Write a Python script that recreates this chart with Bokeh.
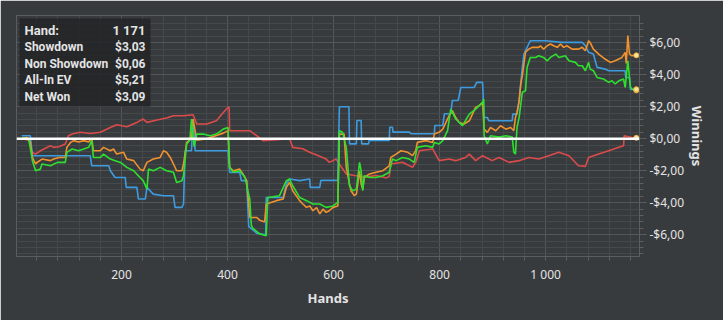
from bokeh.plotting import figure
from bokeh.models import Range1d, FixedTicker, Span, BoxAnnotation, Label
from bokeh.embed import file_html
from bokeh.resources import INLINE

# ---------------- data ----------------
x_major = [200, 400, 600, 800, 1000]
x_minor = [40, 80, 120, 160, 240, 280, 320, 360, 440, 480, 520, 560, 640, 680, 720, 760,
           840, 880, 920, 960, 1040, 1080, 1120, 1160]
x_labels = ["200", "400", "600", "800", "1 000"]

y_major = [-6, -4, -2, 0, 2, 4, 6]
y_minor = [-7.2, -6.8, -6.4, -5.6, -5.2, -4.8, -4.4, -3.6, -3.2, -2.8, -2.4, -1.6, -1.2, -0.8, -0.4,
           0.4, 0.8, 1.2, 1.6, 2.4, 2.8, 3.2, 3.6, 4.4, 4.8, 5.2, 5.6, 6.4, 6.8, 7.2]
y_labels = ["-$6,00", "-$4,00", "-$2,00", "$0,00", "$2,00", "$4,00", "$6,00"]

tip_names = ["Hand:", "Showdown", "Non Showdown", "All-In EV", "Net Won"]
tip_values = ["1 171", "$3,03", "$0,06", "$5,21", "$3,09"]

# (hand, winnings) breakpoints per series
non_showdown = [(12, 0), (25, -0.1), (32, -0.86), (38, -0.96), (47, -0.75), (66, -0.44), (72, -0.54),
    (82, -0.5), (94, -0.33), (100, 0.19), (107, 0.29), (122, 0.4), (141, 0.33), (160, 0.4), (179, 0.7),
    (191, 0.87), (210, 0.75), (229, 1.02), (241, 1.23), (248, 1.02), (267, 1.17), (285, 1.29),
    (298, 1.44), (317, 1.44), (335, 1.5), (342, 0.92), (361, 0.92), (379, 1.12), (392, 1.64),
    (401, 1.96), (403, 1.96), (404, 0.5), (442, 0.5), (455, 0.19), (467, -0.12), (517, 0.0),
    (523, -0.54), (542, -0.63), (555, -0.85), (567, -1.0), (586, -1.27), (592, -1.48), (605, -1.27),
    (611, -1.6), (624, -2.2), (640, -2.3), (660, -2.4), (680, -2.3), (700, -2.45), (705, -2.35),
    (708, -1.58), (730, -1.47), (749, -1.79), (755, -1.47), (762, -0.75), (787, -0.64), (799, -1.37),
    (818, -1.27), (830, -1.37), (849, -1.17), (856, -0.96), (868, -1.37), (881, -1.06), (899, -1.37),
    (912, -1.17), (931, -1.48), (950, -1.37), (968, -1.17), (987, -1.27), (1006, -1.06), (1025, -0.85),
    (1044, -1.06), (1062, -1.69), (1075, -1.73), (1081, -1.17), (1100, -0.96), (1119, -0.75),
    (1138, -0.54), (1147, -0.44), (1148, 0.19), (1163, 0.08), (1171, 0.06)]

showdown = [(12, 0.19), (28, 0.19), (32, -1.06), (141, -1.06), (144, -1.69), (176, -1.69), (179, -2.0),
    (188, -2.42), (207, -2.42), (209, -3.04), (229, -3.04), (232, -3.77), (245, -3.77), (248, -3.04),
    (260, -3.46), (279, -3.56), (298, -3.56), (301, -4.29), (314, -4.29), (317, -4.08), (320, -0.75),
    (332, -0.75), (335, 1.23), (339, -0.75), (401, -0.75), (404, -2.1), (423, -2.1), (426, -2.62),
    (436, -2.62), (440, -5.5), (455, -5.9), (472, -6.0), (473, -3.67), (505, -3.67), (511, -2.83),
    (517, -2.52), (536, -2.62), (555, -2.52), (556, -3.04), (574, -3.04), (576, -2.6), (608, -2.6),
    (611, 2.0), (629, 2.0), (630, -0.32), (643, -0.32), (644, 1.14), (652, 1.14), (653, -0.32),
    (666, -0.32), (667, -0.11), (705, -0.11), (706, 0.72), (711, 0.72), (712, 0.41), (743, 0.41),
    (746, 0.31), (790, 0.31), (791, 0.83), (806, 0.83), (809, 1.56), (821, 1.56), (824, 2.39),
    (835, 2.39), (840, 3.2), (865, 3.2), (870, 3.52), (881, 3.52), (884, 1.33), (890, 1.33),
    (893, 1.12), (937, 1.12), (938, 1.54), (946, 1.54), (950, 2.37), (956, 4.46), (959, 5.29),
    (968, 5.92), (971, 6.12), (1000, 6.12), (1031, 6.02), (1069, 6.02), (1075, 5.81), (1081, 5.4),
    (1090, 5.29), (1097, 4.46), (1112, 4.35), (1119, 4.25), (1150, 4.25), (1151, 3.83), (1158, 3.83),
    (1160, 3.1), (1171, 3.03)]

all_in_ev = [(12, 0), (22, 0.08), (28, -0.2), (32, -1.17), (38, -1.58), (40, -1.5), (50, -1.27),
    (66, -1.37), (72, -1.27), (82, -1.17), (94, -1.17), (97, -0.54), (104, -0.23), (110, -0.12),
    (119, -0.2), (129, -0.12), (138, -0.2), (144, 0.0), (147, -0.75), (160, -0.75), (166, -0.54),
    (179, -0.75), (185, -0.64), (191, -0.96), (204, -0.85), (210, -1.27), (223, -1.37), (235, -1.9),
    (241, -2.0), (248, -1.48), (260, -1.27), (273, -1.17), (279, -0.75), (285, -0.85), (292, -1.17),
    (298, -1.58), (304, -2.0), (314, -2.0), (317, -1.58), (323, -0.23), (332, 0.0), (335, 1.23),
    (342, -0.1), (360, 0.0), (379, 0.2), (392, 0.35), (401, 0.5), (404, -1.79), (411, -2.0),
    (423, -1.9), (429, -2.2), (436, -2.6), (442, -4.92), (455, -4.92), (461, -5.1), (470, -5.2),
    (473, -4.08), (492, -3.87), (505, -3.77), (511, -3.04), (517, -2.73), (523, -3.25), (536, -3.87),
    (542, -4.08), (549, -4.29), (555, -4.2), (561, -4.5), (568, -4.3), (574, -4.7), (580, -4.4),
    (586, -4.6), (592, -4.5), (599, -4.29), (608, -4.2), (611, 0.29), (620, 0.29), (621, -0.33),
    (624, -1.79), (630, -2.83), (633, -3.25), (639, -3.56), (643, -3.46), (649, -2.0), (652, -2.83),
    (655, -3.15), (658, -2.42), (668, -2.2), (680, -2.1), (693, -2.0), (705, -1.69), (708, -1.17),
    (718, -0.96), (727, -0.75), (740, -0.85), (749, -1.06), (755, -0.75), (758, -0.23), (774, -0.12),
    (787, -0.23), (790, 0.29), (799, 0.4), (806, 0.6), (818, 1.44), (824, 1.75), (830, 1.35),
    (837, 1.02), (846, 0.92), (856, 1.12), (865, 1.75), (868, 1.96), (874, 2.06), (881, 2.27),
    (884, 0.6), (890, 0.4), (896, 0.7), (906, 0.5), (915, 0.81), (925, 0.6), (934, 0.7), (940, 0.5),
    (943, 1.33), (946, 1.64), (950, 2.37), (953, 3.42), (956, 3.94), (962, 5.4), (968, 5.6),
    (975, 5.71), (987, 5.71), (990, 5.81), (996, 5.6), (1003, 5.81), (1009, 5.92), (1015, 5.81),
    (1022, 5.71), (1028, 5.92), (1034, 5.71), (1040, 5.81), (1050, 5.6), (1062, 5.6), (1069, 5.71),
    (1075, 5.5), (1081, 6.12), (1084, 6.0), (1090, 5.6), (1100, 5.29), (1112, 4.98), (1122, 4.77),
    (1131, 4.87), (1144, 5.08), (1150, 5.4), (1152, 4.7), (1155, 6.44), (1158, 5.3), (1162, 5.19),
    (1171, 5.21)]

net_won = [(12, 0.05), (25, 0), (32, -1.37), (38, -2.0), (47, -1.9), (50, -1.58), (66, -1.69),
    (79, -1.48), (94, -1.48), (97, -0.85), (107, -0.64), (119, -0.75), (129, -0.64), (138, -0.54),
    (144, -0.12), (147, -1.17), (160, -1.17), (166, -0.96), (179, -1.27), (188, -1.37), (198, -1.48),
    (210, -1.79), (223, -2.0), (235, -2.42), (241, -2.62), (248, -3.15), (251, -1.9), (260, -2.0),
    (273, -1.79), (285, -2.0), (298, -2.1), (304, -2.73), (314, -2.62), (317, -2.31), (323, -0.33),
    (329, -0.1), (332, 1.23), (337, -0.5), (342, 0.29), (354, 0.29), (367, 0.19), (379, 0.29),
    (392, 0.6), (401, 0.7), (404, -1.79), (411, -2.1), (423, -2.0), (433, -2.42), (439, -3.35),
    (442, -3.77), (445, -5.44), (448, -5.6), (461, -5.96), (473, -6.06), (476, -3.67), (498, -3.56),
    (511, -2.62), (517, -2.52), (523, -2.94), (536, -3.67), (549, -3.87), (561, -4.08), (574, -4.08),
    (586, -4.29), (599, -4.2), (608, -3.98), (611, 0.5), (617, 0.4), (624, -0.54), (630, -2.94),
    (636, -3.25), (643, -3.15), (649, -1.48), (652, -2.0), (655, -3.25), (658, -2.31), (668, -2.42),
    (680, -2.42), (693, -2.31), (705, -2.1), (711, -1.27), (718, -1.37), (730, -1.17), (743, -1.27),
    (752, -1.48), (758, -0.54), (774, -0.44), (787, -0.54), (790, -0.23), (799, -0.33), (806, -0.12),
    (815, 0.5), (821, 1.85), (830, 1.25), (843, 0.81), (856, 1.54), (868, 1.85), (881, 2.27),
    (883, 2.48), (884, 0.19), (890, -0.33), (896, 0.19), (912, 0.1), (925, 0.19), (937, 0.1),
    (940, -0.85), (943, -0.96), (946, 0.7), (950, 1.33), (956, 2.9), (962, 3.0), (965, 4.46),
    (971, 5.08), (981, 5.08), (987, 5.19), (996, 5.08), (1003, 4.87), (1009, 5.08), (1019, 5.29),
    (1025, 5.08), (1037, 5.19), (1044, 4.87), (1056, 4.77), (1062, 4.56), (1069, 4.56), (1075, 4.25),
    (1081, 4.77), (1084, 4.35), (1090, 4.25), (1097, 3.83), (1109, 3.73), (1119, 3.52), (1125, 3.62),
    (1131, 3.42), (1138, 3.62), (1147, 3.73), (1150, 3.21), (1155, 4.87), (1158, 3.83), (1160, 3.21),
    (1163, 3.1), (1171, 3.09)]

series = [(non_showdown, "#dc4b4b"), (showdown, "#3d9be0"), (all_in_ev, "#f0922e"), (net_won, "#2ee02e")]

# ---------------- layout ----------------
X0, X1 = 2, 1177
Y0, Y1 = -7.36, 7.7
FL, FR, FT, FB = 16, 639, 15, 256
W, H = 723, 320

def dx(px):
    return X0 + (px - FL) * (X1 - X0) / (FR - FL)

def dy(py):
    return Y1 - (py - FT) * (Y1 - Y0) / (FB - FT)

BG = "#383b3e"
TEXT = "#e4e4e4"
FONT = "Noto Sans"
TIP_FONT = "Roboto"

p = figure(width=W, height=H, x_range=Range1d(X0, X1), y_range=Range1d(Y0, Y1),
           y_axis_location="right", output_backend="svg", toolbar_location=None,
           min_border_left=FL, min_border_right=W - FR, min_border_top=FT, min_border_bottom=H - FB)
p.background_fill_color = BG
p.border_fill_color = BG
p.outline_line_color = "#5b5e61"
p.outline_line_width = 1

p.xaxis.ticker = FixedTicker(ticks=x_major, minor_ticks=x_minor)
p.yaxis.ticker = FixedTicker(ticks=y_major, minor_ticks=y_minor)
p.xaxis.major_label_overrides = dict(zip(x_major, x_labels))
p.yaxis.major_label_overrides = dict(zip(y_major, y_labels))

for ax in (p.xaxis, p.yaxis):
    ax.axis_line_color = "#5b5e61"
    ax.major_tick_line_color = "#5b5e61"
    ax.minor_tick_line_color = "#5b5e61"
    ax.major_tick_in = 0
    ax.minor_tick_in = 0
    ax.major_label_text_font = FONT
    ax.major_label_text_font_size = "12px"
    ax.major_label_text_color = TEXT
    ax.axis_label_text_font = FONT
    ax.axis_label_text_font_size = "13px"
    ax.axis_label_text_font_style = "bold"
    ax.axis_label_text_color = TEXT

p.xaxis.major_tick_out = 4
p.xaxis.minor_tick_out = 4
p.xaxis.major_label_standoff = 5
p.xaxis.axis_label = "Hands"
p.xaxis.axis_label_standoff = 3

p.yaxis.major_tick_out = 7
p.yaxis.minor_tick_out = 4
p.yaxis.major_label_standoff = 3
p.yaxis.axis_label = "Winnings"
p.yaxis.axis_label_standoff = 1

p.xgrid.grid_line_color = "#54575a"
p.ygrid.grid_line_color = "#54575a"
p.xgrid.minor_grid_line_color = "#46494c"
p.ygrid.minor_grid_line_color = "#46494c"

for data, color in series:
    xs = [h for h, _ in data]
    ys = [v for _, v in data]
    p.line(xs, ys, line_color=color, line_width=1.6)

p.add_layout(Span(location=0, dimension="width", line_color="#ffffff", line_width=2.5))

end_x = [s[0][-1][0] for s in series]
end_y = [s[0][-1][1] for s in series]
p.scatter(end_x, end_y, size=5, fill_color="#fbe39a", line_color="#eeb43c", line_width=1)

# tooltip box
p.add_layout(BoxAnnotation(left=dx(19), right=dx(150), top=dy(18), bottom=dy(106),
                           fill_color="#222426", fill_alpha=0.86, line_color=None))
row_y = [30, 46.5, 63, 79.5, 96]
for name, val, ry in zip(tip_names, tip_values, row_y):
    big = name == "Hand:"
    size = "13px" if big else "12px"
    p.add_layout(Label(x=dx(24), y=dy(ry), text=name, text_align="left", text_baseline="middle",
                       text_font=TIP_FONT, text_font_style="bold",
                       text_font_size=size, text_color=TEXT))
    p.add_layout(Label(x=dx(145), y=dy(ry), text=val, text_align="right", text_baseline="middle",
                       text_font=TIP_FONT, text_font_style="bold",
                       text_font_size=size, text_color=TEXT))

open("out.html", "w").write(file_html(p, INLINE))
